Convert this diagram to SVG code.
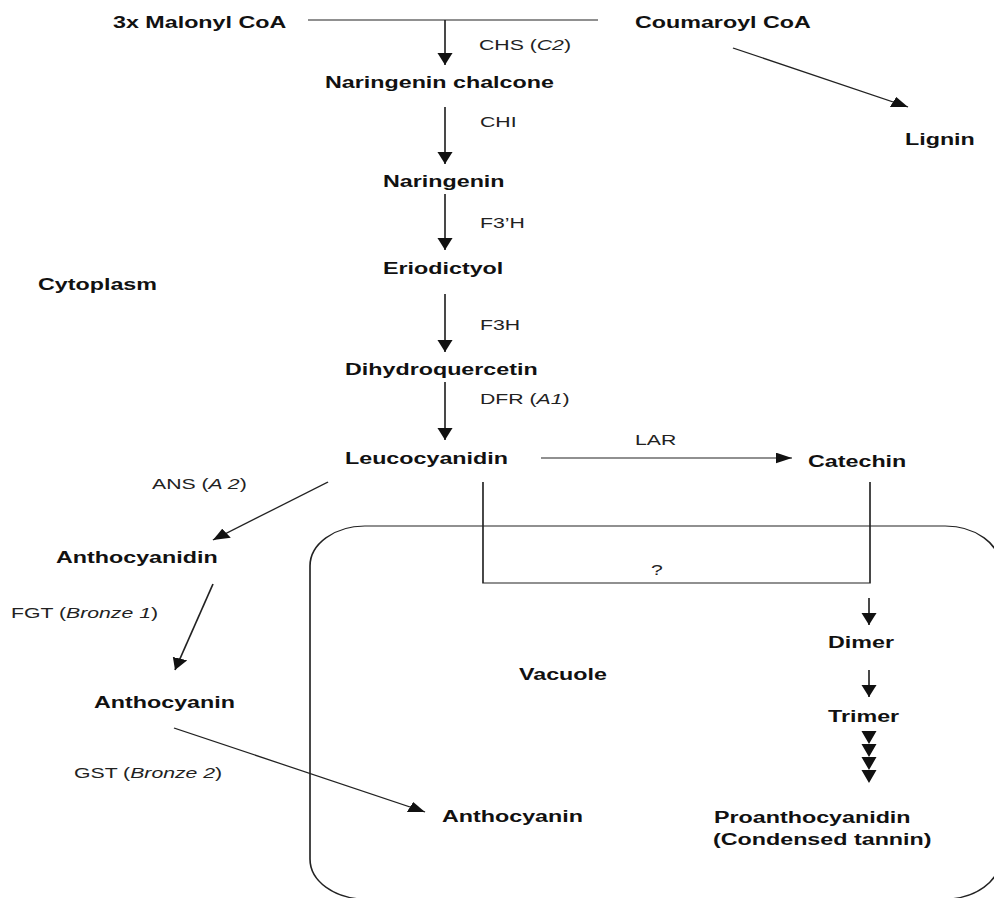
<svg xmlns="http://www.w3.org/2000/svg" width="994" height="898" viewBox="0 0 994 898">
<style>
.b{font-family:"Liberation Sans",Arial,sans-serif;font-weight:bold;font-size:17px;fill:#111}
.r{font-family:"Liberation Sans",Arial,sans-serif;font-size:15.5px;fill:#222}
.i{font-style:italic}
.ln{stroke:#222;stroke-width:1.2;fill:none}
</style>
<defs>
<marker id="ah" markerUnits="userSpaceOnUse" markerWidth="13" markerHeight="12" refX="12" refY="5.5" orient="auto">
<path d="M0,0 L12,5.5 L0,11 Z" fill="#111"/>
</marker>
</defs>
<g transform="scale(1.37 1)">
<rect id="vacuole-box" x="226.28" y="526" width="503.65" height="373" rx="40" ry="40" class="ln"/>
<g id="connectors">
<line class="ln" x1="224.82" y1="20" x2="436.5" y2="20"/>
<line class="ln" x1="324.82" y1="20" x2="324.82" y2="65" marker-end="url(#ah)"/>
<line class="ln" x1="535.04" y1="48" x2="662.77" y2="107" marker-end="url(#ah)"/>
<line class="ln" x1="324.82" y1="107" x2="324.82" y2="164" marker-end="url(#ah)"/>
<line class="ln" x1="324.82" y1="194" x2="324.82" y2="250" marker-end="url(#ah)"/>
<line class="ln" x1="324.82" y1="294" x2="324.82" y2="352" marker-end="url(#ah)"/>
<line class="ln" x1="324.82" y1="382" x2="324.82" y2="440" marker-end="url(#ah)"/>
<line class="ln" x1="394.89" y1="458" x2="578.1" y2="458" marker-end="url(#ah)"/>
<line class="ln" x1="239.42" y1="482" x2="155.47" y2="540" marker-end="url(#ah)"/>
<line class="ln" x1="155.47" y1="584" x2="127.74" y2="670" marker-end="url(#ah)"/>
<line class="ln" x1="127.01" y1="728" x2="310.22" y2="812" marker-end="url(#ah)"/>
<polyline class="ln" points="352.55,482 352.55,583 635.04,583 635.04,482"/>
<line class="ln" x1="634.31" y1="598" x2="634.31" y2="625" marker-end="url(#ah)"/>
<line class="ln" x1="634.31" y1="670" x2="634.31" y2="697" marker-end="url(#ah)"/>
<path d="M628.8,731 L639.8,731 L634.31,744 Z M628.8,744 L639.8,744 L634.31,757 Z M628.8,757 L639.8,757 L634.31,770 Z M628.8,770 L639.8,770 L634.31,783 Z" fill="#111"/>
</g>
<g id="malonyl"><text class="b" x="82.48" y="28">3x Malonyl CoA</text></g>
<g id="coumaroyl"><text class="b" x="463.5" y="28">Coumaroyl CoA</text></g>
<g id="lignin"><text class="b" x="660.58" y="145">Lignin</text></g>
<g id="chs"><text class="r" x="349.64" y="50">CHS (<tspan class="i">C2</tspan>)</text></g>
<g id="naringenin-chalcone"><text class="b" x="237.23" y="88">Naringenin chalcone</text></g>
<g id="chi"><text class="r" x="350.36" y="127">CHI</text></g>
<g id="naringenin"><text class="b" x="279.56" y="187">Naringenin</text></g>
<g id="f3ph"><text class="r" x="350.36" y="228">F3’H</text></g>
<g id="eriodictyol"><text class="b" x="279.56" y="274">Eriodictyol</text></g>
<g id="cytoplasm"><text class="b" x="27.74" y="290" font-size="18">Cytoplasm</text></g>
<g id="f3h"><text class="r" x="350.36" y="330">F3H</text></g>
<g id="dihydroquercetin"><text class="b" x="251.82" y="375">Dihydroquercetin</text></g>
<g id="dfr"><text class="r" x="350.36" y="404">DFR (<tspan class="i">A1</tspan>)</text></g>
<g id="leucocyanidin"><text class="b" x="251.82" y="464" font-size="18.5">Leucocyanidin</text></g>
<g id="lar"><text class="r" x="463.5" y="445">LAR</text></g>
<g id="catechin"><text class="b" x="589.78" y="467">Catechin</text></g>
<g id="ans"><text class="r" x="110.95" y="489">ANS (<tspan class="i">A 2</tspan>)</text></g>
<g id="anthocyanidin"><text class="b" x="40.88" y="563">Anthocyanidin</text></g>
<g id="fgt"><text class="r" x="8.03" y="618">FGT (<tspan class="i">Bronze 1</tspan>)</text></g>
<g id="anthocyanin-cyto"><text class="b" x="68.61" y="708">Anthocyanin</text></g>
<g id="gst"><text class="r" x="54.01" y="778">GST (<tspan class="i">Bronze 2</tspan>)</text></g>
<g id="anthocyanin-vac"><text class="b" x="322.63" y="822">Anthocyanin</text></g>
<g id="vacuole"><text class="b" x="378.83" y="680" font-size="18.5">Vacuole</text></g>
<g id="question"><text class="r" x="479.56" y="575" text-anchor="middle">?</text></g>
<g id="dimer"><text class="b" x="604.38" y="648">Dimer</text></g>
<g id="trimer"><text class="b" x="604.38" y="722">Trimer</text></g>
<g id="proanthocyanidin"><text class="b" x="521.17" y="823">Proanthocyanidin</text><text class="b" x="520.44" y="845">(Condensed tannin)</text></g>
</g>
</svg>
